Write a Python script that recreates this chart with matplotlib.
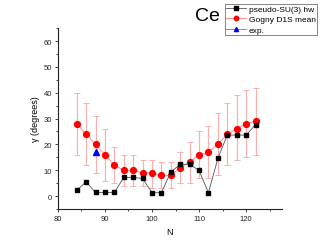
import matplotlib
matplotlib.use("Agg")
import matplotlib.pyplot as plt
from matplotlib.ticker import MultipleLocator

plt.rcParams["font.family"] = ["Liberation Sans", "DejaVu Sans"]

# neutron number
N = [84, 86, 88, 90, 92, 94, 96, 98, 100, 102,
     104, 106, 108, 110, 112, 114, 116, 118, 120, 122]

# pseudo-SU(3) hw
su3 = [2.2, 5.5, 1.4, 1.4, 1.4, 7.2, 7.2, 6.8, 1.3, 1.3,
       9.3, 12.3, 12.3, 9.9, 1.3, 14.6, 23.6, 23.6, 23.6, 27.6]

# Gogny D1S mean and its spread
gogny = [28, 24, 20, 16, 12, 10, 10, 9, 9, 8,
         8, 11, 13, 16, 17, 20, 24, 26, 28, 29]
g_hi = [40, 36, 31, 26, 19, 16, 16, 14, 14, 13,
        13, 17, 21, 25, 27, 32, 36, 39, 41, 42]
g_lo = [16, 12, 9, 6, 5, 4, 4, 4, 3, 3,
        3, 5, 5, 7, 7, 8, 12, 14, 15, 16]

# experiment
N_exp = [88]
exp = [17]

err_lo = [g - l for g, l in zip(gogny, g_lo)]
err_hi = [h - g for g, h in zip(gogny, g_hi)]

fig = plt.figure(figsize=(3.27, 2.53), dpi=100)
ax = fig.add_axes([0.177, 0.170, 0.685, 0.715])

ax.errorbar(N, gogny, yerr=[err_lo, err_hi], fmt="none", ecolor="#f9b0b0",
            elinewidth=0.9, capsize=2, capthick=0.7, zorder=1)
l1, = ax.plot(N, su3, color="#555555", lw=0.6, marker="s", ms=3.5,
              mfc="black", mec="black", label="pseudo-SU(3) hw", zorder=3)
l2, = ax.plot(N, gogny, color="#ff8080", lw=0.6, marker="o", ms=4.2,
              mfc="red", mec="red", label="Gogny D1S mean", zorder=2)
l3, = ax.plot(N_exp, exp, color="#7070ff", lw=0.6, marker="^", ms=4,
              mfc="blue", mec="blue", label="exp.", zorder=4)

ax.set_xlim(80, 127.6)
ax.set_ylim(-5, 65)
ax.xaxis.set_major_locator(MultipleLocator(10))
ax.xaxis.set_minor_locator(MultipleLocator(5))
ax.yaxis.set_major_locator(MultipleLocator(10))
ax.yaxis.set_minor_locator(MultipleLocator(5))

for s in ["top", "right"]:
    ax.spines[s].set_visible(False)
for s in ["left", "bottom"]:
    ax.spines[s].set_linewidth(0.8)
    ax.spines[s].set_color("#222222")

ax.tick_params(which="major", direction="out", length=2.5, width=0.6,
               labelsize=5.5, pad=1.5, colors="#222222")
ax.tick_params(which="minor", direction="out", length=1.5, width=0.5)

ax.set_xlabel("N", fontsize=6.5, labelpad=4)
ax.set_ylabel("\u03b3 (degrees)", fontsize=6.5, labelpad=3)

fig.text(0.595, 0.935, "Ce", fontsize=14, ha="left", va="center")

leg = fig.legend(handles=[l1, l2, l3], loc="upper right",
                 bbox_to_anchor=(0.970, 0.982), fontsize=6,
                 frameon=True, fancybox=False, edgecolor="#666666",
                 handlelength=2.4, handletextpad=0.25, borderpad=0.2,
                 labelspacing=0.3, borderaxespad=0, markerscale=0.75)
leg.get_frame().set_linewidth(0.7)

fig.savefig("out.png", dpi=100)
